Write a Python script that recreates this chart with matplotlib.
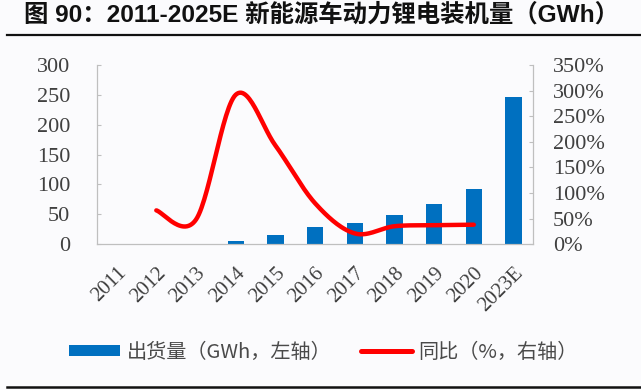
import numpy as np
import matplotlib
matplotlib.use('Agg')
import matplotlib.pyplot as plt
from matplotlib.patches import Patch
from matplotlib.lines import Line2D

plt.rcParams['font.family'] = ['Liberation Serif', 'Noto Sans CJK SC']

# data
years = ['2011', '2012', '2013', '2014', '2015', '2016', '2017',
         '2018', '2019', '2020', '2023E']
shipments = [0, 0, 0, 5, 16, 29, 36, 49, 67, 93, 246]       # GWh, left axis
yoy = [None, 66, 48, 292, 193, 80, 21, 35, 37, 38, None]     # %, right axis

BLUE = '#0070C0'
RED = '#FF0000'
GRID = '#BFBFBF'
TXT = '#404040'
BG = '#FBFBFD'


def smooth(xs, ys, n=30):
    # Excel-style smoothed line (Catmull-Rom through the points)
    px, py = [], []
    m = len(xs)
    for i in range(m - 1):
        x0, y0 = (xs[i - 1], ys[i - 1]) if i > 0 else (xs[i], ys[i])
        x1, y1 = xs[i], ys[i]
        x2, y2 = xs[i + 1], ys[i + 1]
        x3, y3 = (xs[i + 2], ys[i + 2]) if i + 2 < m else (x2, y2)
        c1 = (x1 + (x2 - x0) / 6, y1 + (y2 - y0) / 6)
        c2 = (x2 - (x3 - x1) / 6, y2 - (y3 - y1) / 6)
        t = np.linspace(0, 1, n)
        bx = (1-t)**3*x1 + 3*(1-t)**2*t*c1[0] + 3*(1-t)*t**2*c2[0] + t**3*x2
        by = (1-t)**3*y1 + 3*(1-t)**2*t*c1[1] + 3*(1-t)*t**2*c2[1] + t**3*y2
        px.extend(bx)
        py.extend(by)
    return px, py


fig = plt.figure(figsize=(6.41, 3.9), dpi=100, facecolor=BG)
ax = fig.add_axes([0.151, 0.374, 0.681, 0.459])
ax.set_facecolor(BG)

x = np.arange(len(years))
ax.bar(x, shipments, width=0.41, color=BLUE, zorder=2)
ax.set_xlim(-0.5, len(years) - 0.5)
ax.set_ylim(0, 300)
ax.set_yticks(range(0, 301, 50))
ax.set_xticks(x)
ax.set_xticklabels(years, rotation=45, ha='right', rotation_mode='anchor')

ax2 = ax.twinx()
lx = [i for i, v in enumerate(yoy) if v is not None]
ly = [v for v in yoy if v is not None]
sx, sy = smooth(lx, ly)
ax2.plot(sx, sy, color=RED, lw=3.2, solid_capstyle='round', zorder=3)
ax2.set_ylim(0, 350)
ax2.set_yticks(range(0, 351, 50))
ax2.set_yticklabels([f'{v}%' for v in range(0, 351, 50)])

for a in (ax, ax2):
    a.spines['top'].set_visible(False)
    for s in ('left', 'right', 'bottom'):
        a.spines[s].set_color(GRID)
        a.spines[s].set_linewidth(0.8)
    a.tick_params(colors=TXT, labelsize=16, length=3, width=0.8, direction='in')
    a.tick_params(axis='both', color=GRID)

ax.tick_params(axis='y', pad=19)
ax.tick_params(axis='x', length=0, pad=14, labelsize=15)
ax2.tick_params(axis='y', pad=14)

# title and rules
fig.text(0.037, 0.962, '图 90：2011-2025E 新能源车动力锂电装机量（GWh）',
         fontsize=17.6, fontweight='bold', color='#111111', va='center',
         family=['Liberation Sans', 'Noto Sans CJK SC'])
fig.add_artist(Line2D([0.011, 1.0], [0.910, 0.910], color='#111111', lw=1.6))
fig.add_artist(Line2D([0.011, 1.0], [0.008, 0.008], color='#111111', lw=1.8))

handles = [Patch(facecolor=BLUE, edgecolor='none'),
           Line2D([0], [0], color=RED, lw=3.6, solid_capstyle='round')]
labels = ['出货量（GWh，左轴）', '同比（%，右轴）']
fig.legend(handles, labels, loc='center', bbox_to_anchor=(0.505, 0.097),
           ncol=2, frameon=False, handlelength=2.5, handleheight=0.45,
           handletextpad=0.34, columnspacing=1.5,
           prop={'family': ['Noto Sans CJK SC'], 'size': 14.5},
           labelcolor='#4a4a4a')

fig.savefig('out.png', dpi=100, facecolor=BG)
